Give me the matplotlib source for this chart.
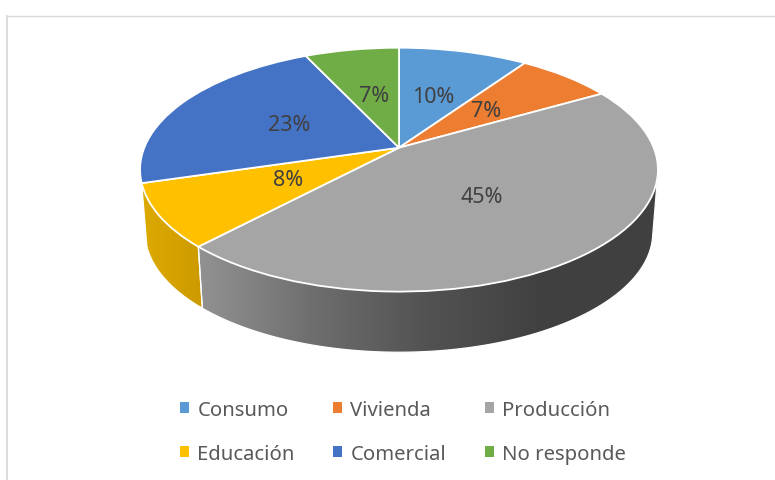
import numpy as np
import matplotlib
matplotlib.use("Agg")
import matplotlib.pyplot as plt
from matplotlib.lines import Line2D
from matplotlib.patches import Patch, Polygon
from matplotlib.transforms import Transform

categories = ["Consumo", "Vivienda", "Producción", "Educación", "Comercial", "No responde"]
values = [9.6, 7.1, 45.3, 8.4, 22.6, 7.0]
colors = ["#5B9BD5", "#ED7D31", "#A5A5A5", "#FFC000", "#4472C4", "#70AD47"]

# wall shading, left to right
wall_colors = {
    "Producción": ["#929292", "#6E6E6E", "#525252", "#404040", "#404040"],
    "Educación": ["#DCAA00", "#D5A200", "#CC9A00"],
}


class Tilted(Transform):
    # perspective view of the unit disc, gives pixel coords
    input_dims = 2
    output_dims = 2

    def __init__(self, dx=0.0, dy=0.0, s=1.0):
        super().__init__()
        self.dx, self.dy, self.s = dx, dy, s

    def transform_non_affine(self, values):
        xy = np.asarray(values, dtype=float)
        w = 1 + 0.18 * xy[:, 1]
        return np.column_stack([
            399 + self.dx + self.s * 254.7 * xy[:, 0] / w,
            148.7 + self.dy - self.s * 118 * xy[:, 1] / w,
        ])


def rim(t, **kw):
    return Tilted(**kw).transform_non_affine(np.column_stack([np.sin(t), np.cos(t)]))


def hull(points):
    # monotone chain, top face hides the inner side anyway
    pts = sorted(map(tuple, points))

    def half(seq):
        out = []
        for p in seq:
            while len(out) > 1:
                a, b = out[-2], out[-1]
                if (b[0] - a[0]) * (p[1] - b[1]) - (b[1] - a[1]) * (p[0] - b[0]) > 0:
                    break
                out.pop()
            out.append(p)
        return out[:-1]

    return np.array(half(pts) + half(pts[::-1]))


plt.rcParams["font.family"] = "Noto Sans"
fig = plt.figure(figsize=(7.75, 4.81), dpi=100)
ax = fig.add_axes([0, 0, 1, 1])

# side wall, only the two slices that face the viewer
edges = np.cumsum([0] + values) / sum(values) * 2 * np.pi
for i, name in enumerate(categories):
    if name not in wall_colors:
        continue
    t = np.linspace(edges[i], edges[i + 1], 200)
    poly = hull(np.vstack([rim(t), rim(t, dy=63.5, s=0.98)]))
    x0, x1 = poly[:, 0].min(), poly[:, 0].max()
    cmap = matplotlib.colors.LinearSegmentedColormap.from_list(name, wall_colors[name])
    img = ax.imshow(np.linspace(0, 1, 256)[None, :], cmap=cmap, aspect="auto",
                    extent=[x0, x1, 360, 90], zorder=1)
    clip = Polygon(poly, closed=True, transform=ax.transData)
    img.set_clip_path(clip)
    ax.add_patch(Polygon(poly, closed=True, fill=False, edgecolor="white", lw=0.9, zorder=2))

# top face
wedges, texts, autotexts = ax.pie(
    values, colors=colors, startangle=90, counterclock=False,
    autopct="%1.0f%%", pctdistance=0.49,
    wedgeprops={"edgecolor": "white", "linewidth": 1.3, "zorder": 3},
    textprops={"fontsize": 15.5, "color": "#404040", "zorder": 5},
)
proj = Tilted() + ax.transData
for w in wedges:
    w.set_transform(proj)
for a in autotexts:
    a.set_transform(proj)

ax.set_aspect("auto")
ax.set_xlim(0, 775)
ax.set_ylim(481, 0)
ax.axis("off")

# chart border, left and top only
fig.add_artist(Line2D([6.5 / 775, 6.5 / 775], [0, 1 - 16.5 / 481], color="#D9D9D9", lw=1.3))
fig.add_artist(Line2D([6.5 / 775, 1], [1 - 16.5 / 481, 1 - 16.5 / 481], color="#D9D9D9", lw=1.0))

order = [0, 3, 1, 4, 2, 5]
handles = [Patch(facecolor=colors[i], edgecolor="none") for i in order]
leg = ax.legend(handles, [categories[i] for i in order], ncol=3, frameon=False,
                loc="center", bbox_to_anchor=(403 / 775, 1 - 433 / 481),
                fontsize=14.6, labelcolor="#595959", handlelength=0.45, handleheight=0.45,
                handletextpad=0.4, columnspacing=1.9, labelspacing=1.2)

fig.savefig("out.png", dpi=100)
